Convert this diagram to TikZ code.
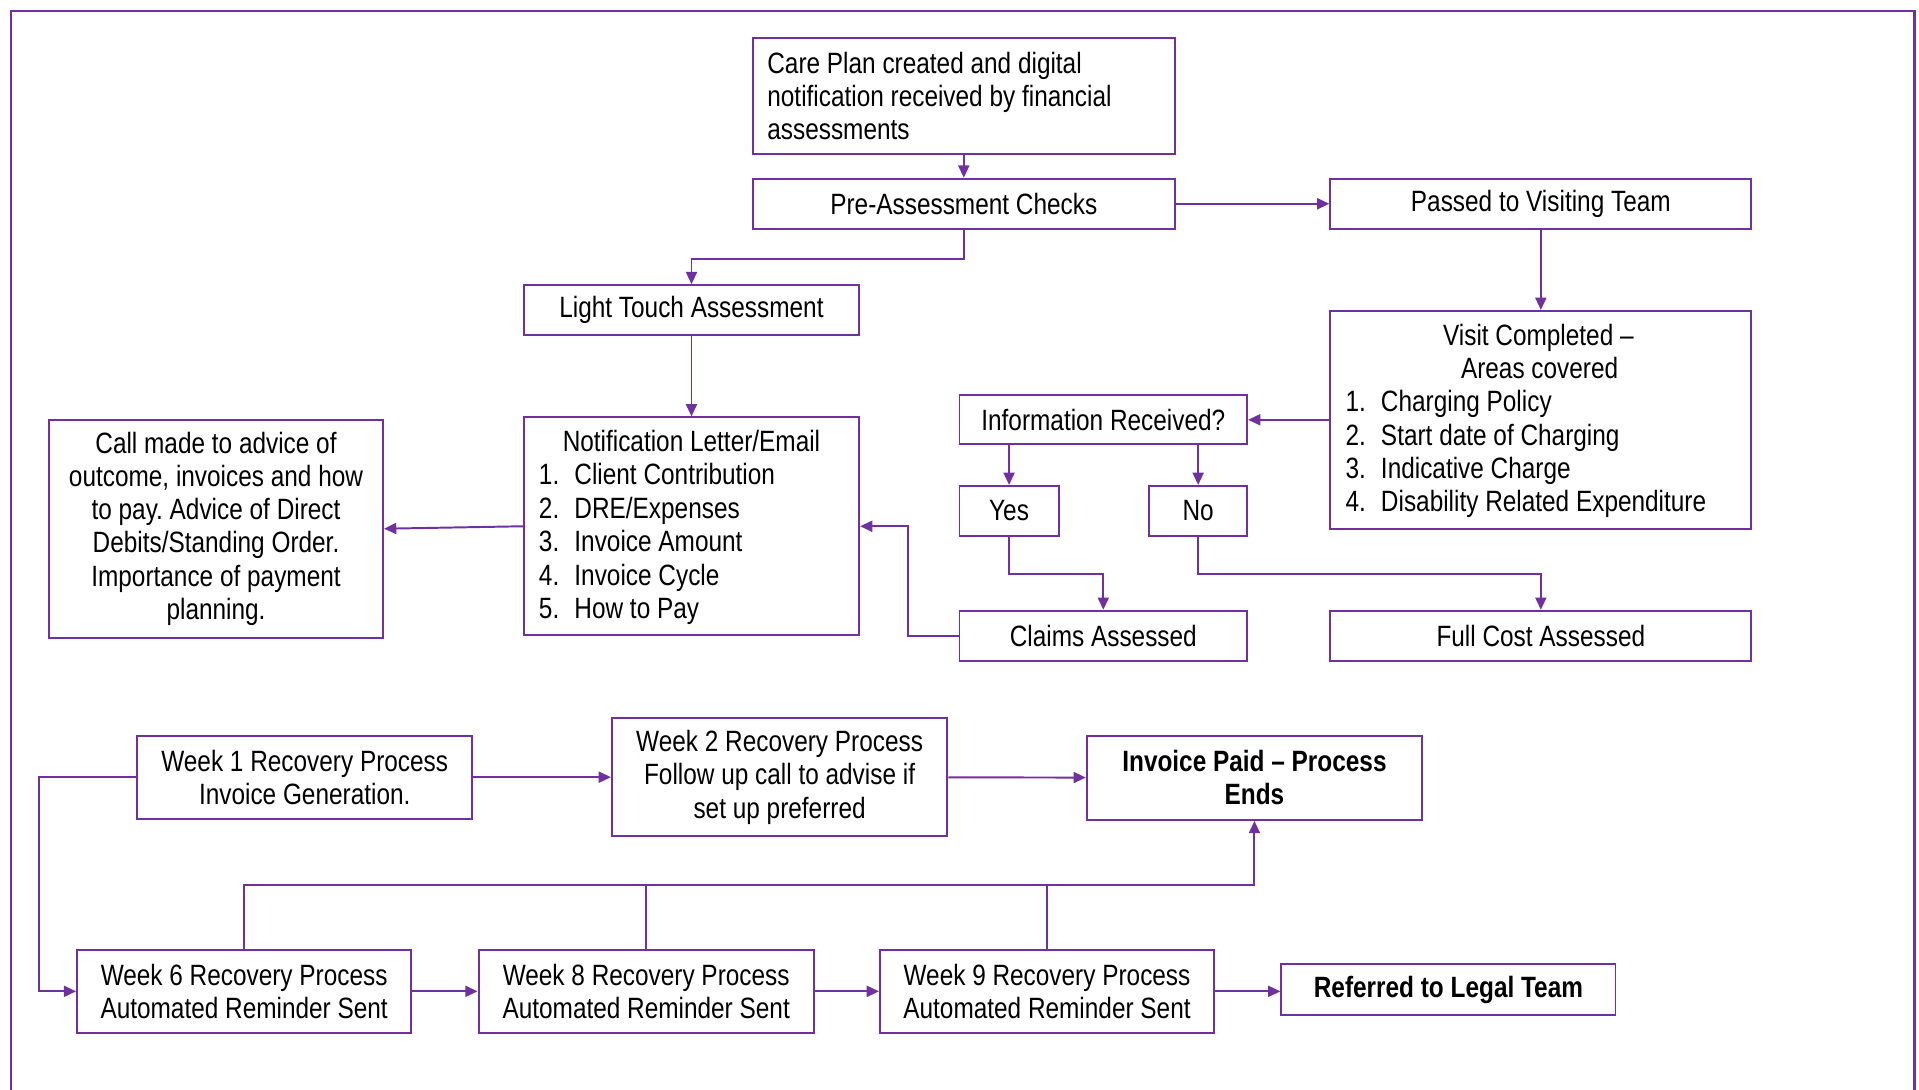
\documentclass[tikz,border=0pt]{standalone}
\usepackage{fontspec}
\setmainfont{Liberation Sans}[FakeStretch=0.83]
\usetikzlibrary{arrows.meta}
\definecolor{purp}{HTML}{7030A0}

\begin{document}
\frenchspacing
\begin{tikzpicture}[x=0.5pt,y=-0.5pt,
  every node/.style={font=\fontsize{12}{13.6}\selectfont, text=black},
  % span={left}{top}{right}{bottom}: place and size a box by its corners
  span/.style n args={4}{minimum width={(#3-#1)*0.5pt}, minimum height={(#4-#2)*0.5pt},
                         at={({(#1+#3)/2},{(#2+#4)/2})}},
  box/.style={draw=purp, line width=0.8pt, fill=white, inner sep=0pt, align=center},
  boldbox/.style={box, font=\fontsize{12}{13.6}\selectfont\bfseries},
  item/.style={anchor=base west, inner sep=0pt},
  title/.style={anchor=base, inner sep=0pt},
  link/.style={draw=purp, line width=0.8pt, -{Triangle[length=5pt,width=4.5pt]}},
  plain/.style={draw=purp, line width=0.8pt},
]
\useasboundingbox (0,0) rectangle (1568,890);

% outer frame (open at the bottom)
\draw[purp, line width=1.2pt] (9,900) -- (9,9) -- (1564,9) -- (1564,900);

% assessment stage
\node[box, span={615}{31}{960}{126}, text width=160.5pt, align=flush left] (care)
  {Care Plan created and digital\\notification received by financial\\assessments};
\node[box, span={615}{146}{960}{187}] (pre) {Pre-Assessment Checks};
\node[box, span={1087}{146}{1431}{187}] (visit) {Passed to Visiting Team};
\node[box, span={428}{233}{702}{274}] (light) {Light Touch Assessment};

\node[box, span={1087}{254}{1431}{432}] (done) {};
\node[title] (doneA) at (1257,282) {Visit Completed –};
\node[title] (doneB) at (1258,309) {Areas covered};
\foreach \n/\y/\t in {1/336/{Charging Policy}, 2/364/{Start date of Charging},
                      3/391/{Indicative Charge}, 4/418/{Disability Related Expenditure}}
  \node[item] (done\n) at (1099,\y) {\makebox[14.5pt][l]{\n.}\t};

\node[box, span={784}{323}{1019}{363}] (info) {Information Received?};
\node[box, span={784}{397}{865}{438}] (yes) {Yes};
\node[box, span={939}{397}{1019}{438}] (no) {No};
\node[box, span={784}{499}{1019}{540}] (claims) {Claims Assessed};
\node[box, span={1087}{499}{1431}{540}] (fullcost) {Full Cost Assessed};

\node[box, span={428}{341}{702}{519}] (notif) {};
\node[title] (notifT) at (565,369) {Notification Letter/Email};
\foreach \n/\y/\t in {1/396/{Client Contribution}, 2/424/{DRE/Expenses},
                      3/451/{Invoice Amount}, 4/478/{Invoice Cycle}, 5/505/{How to Pay}}
  \node[item] (notif\n) at (440,\y) {\makebox[14.5pt][l]{\n.}\t};

\node[box, span={40}{343}{313}{521}] (call)
  {Call made to advice of\\outcome, invoices and how\\to pay. Advice of Direct\\Debits/Standing Order.\\Importance of payment\\planning.};

% recovery stage
\node[box, span={112}{601}{386}{669}] (wk1) {Week 1 Recovery Process\\Invoice Generation.};
\node[box, span={500}{587}{774}{683}] (wk2) {Week 2 Recovery Process\\Follow up call to advise if\\set up preferred};
\node[boldbox, span={888}{601}{1162}{670}] (paid) {Invoice Paid – Process\\Ends};
\node[box, span={63}{776}{336}{844}] (wk6) {Week 6 Recovery Process\\Automated Reminder Sent};
\node[box, span={391}{776}{665}{844}] (wk8) {Week 8 Recovery Process\\Automated Reminder Sent};
\node[box, span={719}{776}{992}{844}] (wk9) {Week 9 Recovery Process\\Automated Reminder Sent};
\node[boldbox, span={1047}{788}{1320}{829}] (legal) {Referred to Legal Team};

% connectors
\draw[link] (care) -- (pre);
\draw[link] (pre) -- (visit);
\draw[link] (pre.south) -- ++(0,24) -| (light.north);
\draw[link] (light) -- (notif);
\draw[link] (visit) -- (done);
\draw[link] (done.west) -- (info.east);
\draw[link] (info.south -| yes) -- (yes.north);
\draw[link] (info.south -| no) -- (no.north);
\draw[link] (yes.south) -- ++(0,30) -| (claims.north);
\draw[link] (no.south) -- ++(0,30) -| (fullcost.north);
\draw[link] (claims.west) -- ++(-41,0) |- (notif.east);
\draw[link] (notif.west) -- (call.east);

\draw[link] (wk1) -- (wk2);
\draw[link] (wk2) -- (paid);
\draw[link] (wk1.west) -- ++(-79,0) |- (wk6.west);
\draw[link] (wk6) -- (wk8);
\draw[link] (wk8) -- (wk9);
\draw[link] (wk9.east) -- (wk9.east -| legal.west);

\coordinate (bus) at (0,723);
\draw[link] (wk6.north) |- (bus -| paid.south) -- (paid.south);
\draw[plain] (wk8.north) -- (wk8.north |- bus);
\draw[plain] (wk9.north) -- (wk9.north |- bus);
\end{tikzpicture}
\end{document}
